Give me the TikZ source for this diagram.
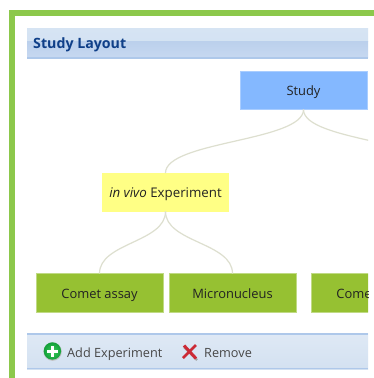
\documentclass[tikz,border=0pt]{standalone}
\usepackage{fontspec}
\usetikzlibrary{calc}
\setmainfont{Open Sans}
\definecolor{frame}{HTML}{8CC84B}
\definecolor{barline}{HTML}{AEC8EA}
\definecolor{headA}{HTML}{D6E4F3}
\definecolor{headB}{HTML}{BBD0EC}
\definecolor{headC}{HTML}{C6D8F0}
\definecolor{toolA}{HTML}{DFE9F5}
\definecolor{toolB}{HTML}{D3E1F1}
\definecolor{titleblue}{HTML}{0F3F88}
\definecolor{link}{HTML}{DDDFCF}
\definecolor{studyblue}{HTML}{84B8FF}
\definecolor{expyellow}{HTML}{FFFF85}
\definecolor{assaygreen}{HTML}{96C132}
\definecolor{txt}{HTML}{222222}
\definecolor{iconred}{HTML}{CC2A36}
\definecolor{iconA}{HTML}{3CCB5A}
\definecolor{iconB}{HTML}{12A03A}
\tikzset{
  box/.style={minimum width=127pt,minimum height=38.5pt,inner sep=0pt,outer sep=0pt,
    font=\fontsize{12.9}{15}\selectfont,text=txt,anchor=north west,text height=13.5pt,text depth=2.5pt},
  studybox/.style={box,fill=studyblue,draw=studyblue!70!white,line width=.5pt},
  expbox/.style={box,fill=expyellow,font=\fontsize{13.3}{15}\selectfont},
  assaybox/.style={box,fill=assaygreen,draw=assaygreen!60!white,line width=.5pt},
  linkline/.style={draw=link,line width=1.2pt},
  toolbtn/.style={font=\fontsize{12.7}{15}\selectfont,text=black!72,inner sep=0pt,anchor=west,text height=13.5pt,text depth=2.5pt},
}
\begin{document}
\begin{tikzpicture}[x=1pt,y=-1pt]
\useasboundingbox (0,0) rectangle (374,378);
\fill[white] (0,0) rectangle (374,378);
% frame
\fill[frame] (9,10) rectangle (374,15.7);
\fill[frame] (9,10) rectangle (15,378);
% header band
\fill[top color=headA,bottom color=headA!92!headB] (27,28) rectangle (368,41);
\fill[top color=headB,bottom color=headC] (27,41) rectangle (368,57);
\fill[barline] (27,57) rectangle (368,59);
\node[font=\fontsize{14.2}{16}\selectfont\bfseries,text=titleblue,inner sep=0pt,anchor=west] (title) at (33,45) {Study Layout};
% toolbar
\fill[top color=toolA,bottom color=toolB] (27,333) rectangle (368,369);
\fill[barline] (27,333) rectangle (368,334.5);
\fill[barline] (27,367.5) rectangle (368,369);
\begin{scope}
\clip (0,0) rectangle (368,378);
\node[studybox] (study) at (240,71) {Study};
\node[expbox] (exp) at (102,173) {\textit{in vivo} Experiment};
\node[assaybox] (comet) at (36,273.5) {Comet assay};
\node[assaybox] (micro) at (169,273.5) {Micronucleus};
\node[assaybox] (cometb) at (311,273.5) {Comet assay};
\coordinate (exptwo) at (441.5,173);
\draw[linkline] (study.south) .. controls ($(study.south)+(0,32)$) and ($(exp.north)+(0,-32)$) .. (exp.north);
\draw[linkline] (study.south) .. controls ($(study.south)+(0,32)$) and ($(exptwo)+(0,-32)$) .. (exptwo);
\draw[linkline] (exp.south) .. controls ($(exp.south)+(0,31)$) and ($(comet.north)+(0,-31)$) .. (comet.north);
\draw[linkline] (exp.south) .. controls ($(exp.south)+(0,31)$) and ($(micro.north)+(0,-31)$) .. (micro.north);
\end{scope}
% add icon
\fill[black!25] (52.6,351.6) circle (9.2);
\shade[inner color=iconA,outer color=iconB] (52.4,351) circle (8.7);
\fill[white] (50.9,345.5) rectangle (53.9,356.5);
\fill[white] (46.9,349.5) rectangle (57.9,352.5);
\node[toolbtn] (add) at (67,352) {Add Experiment};
% remove icon
\draw[black!35,line width=2.4pt] (184,347) -- (197,360);
\draw[iconred,line width=2.7pt] (196,345) -- (183,358);
\draw[iconred,line width=3pt] (184,345.5) -- (196,358.5);
\node[toolbtn] (remove) at (204,352) {Remove};
\end{tikzpicture}
\end{document}
